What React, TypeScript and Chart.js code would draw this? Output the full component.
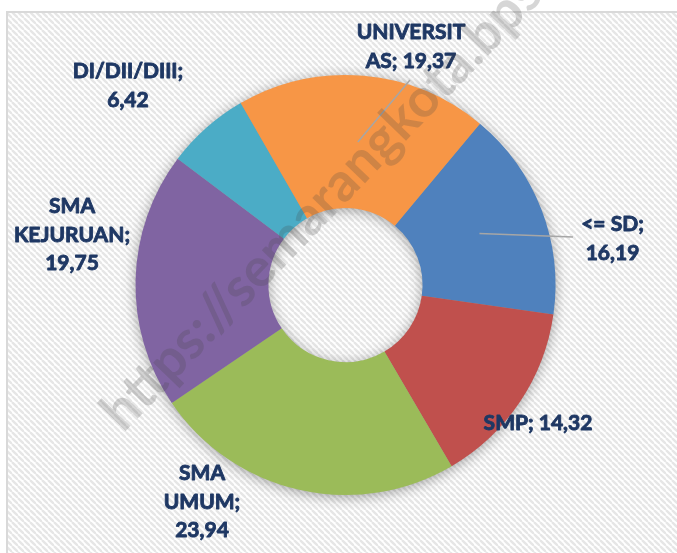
import React, { useEffect, useRef } from "react";
import { Chart, registerables } from "chart.js";

Chart.register(...registerables);

// ---- data ----
const CATEGORIES = ["<= SD", "SMP", "SMA UMUM", "SMA KEJURUAN", "DI/DII/DIII", "UNIVERSITAS"];
const VALUES = [16.19, 14.32, 23.94, 19.75, 6.42, 19.37];
const COLORS = ["#4F81BD", "#C0504D", "#9BBB59", "#8064A2", "#4BACC6", "#F79646"];
// character positions at which Excel wrapped each data label
const LABEL_WRAP = [[6], [], [3, 9], [3, 13], [12], [9]];
// label placement relative to the doughnut centre (centre x of text, first baseline)
const LABEL_POS = [
  [267, -54],
  [192.5, 145],
  [-143.5, 195],
  [-273.5, -72],
  [-217.5, -207],
  [65.5, -246],
];
// leader line end points relative to centre (null = no leader)
const LEADER_END: (number[] | null)[] = [[227.5, -48], null, null, null, null, [64.5, -205]];
const WATERMARK = "https://semarangkota.bps.go.id";

const fmt = (v: number) => v.toFixed(2).replace(".", ",");

function labelLines(i: number): string[] {
  const text = `${CATEGORIES[i]}; ${fmt(VALUES[i])}`;
  const cuts = [...LABEL_WRAP[i], text.length];
  const out: string[] = [];
  let prev = 0;
  for (const c of cuts) {
    out.push(text.slice(prev, c).trim());
    prev = c;
  }
  return out;
}

function makePattern(ctx: CanvasRenderingContext2D) {
  const n = 6;
  const c = document.createElement("canvas");
  c.width = n;
  c.height = n;
  const p = c.getContext("2d")!;
  p.fillStyle = "#ffffff";
  p.fillRect(0, 0, n, n);
  p.strokeStyle = "#e6e6e6";
  p.lineWidth = 2.4;
  for (const off of [-n, 0, n]) {
    p.beginPath();
    p.moveTo(off, 0);
    p.lineTo(off + n, n);
    p.stroke();
  }
  return ctx.createPattern(c, "repeat")!;
}

const backgroundPlugin = {
  id: "bgFrame",
  beforeDraw(chart: any) {
    const { ctx, width, height } = chart;
    ctx.save();
    ctx.fillStyle = "#ffffff";
    ctx.fillRect(0, 0, width, height);
    ctx.fillStyle = makePattern(ctx);
    ctx.fillRect(7, 12, width - 7, height - 12);
    ctx.strokeStyle = "#d9d9d9";
    ctx.lineWidth = 2;
    ctx.beginPath();
    ctx.moveTo(7, height);
    ctx.lineTo(7, 12);
    ctx.lineTo(width, 12);
    ctx.stroke();
    ctx.restore();
  },
};

const ringShadowPlugin = {
  id: "ringShadow",
  beforeDatasetsDraw(chart: any) {
    const arc = chart.getDatasetMeta(0).data[0];
    if (!arc) return;
    const { x, y, innerRadius, outerRadius } = arc.getProps(["x", "y", "innerRadius", "outerRadius"], true);
    const ctx = chart.ctx;
    ctx.save();
    ctx.shadowColor = "rgba(0,0,0,0.4)";
    ctx.shadowBlur = 14;
    ctx.shadowOffsetX = 0;
    ctx.shadowOffsetY = 2;
    ctx.fillStyle = "#999";
    ctx.beginPath();
    ctx.arc(x, y, outerRadius - 1, 0, Math.PI * 2);
    ctx.arc(x, y, innerRadius + 1, 0, Math.PI * 2, true);
    ctx.fill("evenodd");
    ctx.restore();
  },
};

const labelPlugin = {
  id: "excelLabels",
  afterDatasetsDraw(chart: any) {
    const meta = chart.getDatasetMeta(0);
    const first = meta.data[0];
    if (!first) return;
    const { x: cx, y: cy } = first.getProps(["x", "y"], true);
    const ctx = chart.ctx;
    ctx.save();
    meta.data.forEach((arc: any, i: number) => {
      const end = LEADER_END[i];
      if (end) {
        const p = arc.getCenterPoint(true);
        ctx.strokeStyle = "#a6a6a6";
        ctx.lineWidth = 1.5;
        ctx.beginPath();
        ctx.moveTo(p.x, p.y);
        ctx.lineTo(cx + end[0], cy + end[1]);
        ctx.stroke();
      }
    });
    ctx.fillStyle = "#1F3864";
    ctx.strokeStyle = "#1F3864";
    ctx.lineWidth = 0.9;
    ctx.lineJoin = "round";
    ctx.font = "bold 21px Lato";
    ctx.textAlign = "center";
    ctx.textBaseline = "alphabetic";
    meta.data.forEach((_arc: any, i: number) => {
      const lines = labelLines(i);
      const [dx, dy] = LABEL_POS[i];
      lines.forEach((ln, k) => {
        const tx = cx + dx;
        const ty = cy + dy + k * 28.7;
        ctx.fillText(ln, tx, ty);
        ctx.strokeText(ln, tx, ty);
      });
    });
    ctx.restore();
  },
};

const watermarkPlugin = {
  id: "watermark",
  afterDraw(chart: any) {
    const ctx = chart.ctx;
    const size = 54;
    ctx.save();
    ctx.font = `bold ${size}px Lato`;
    const lead = ctx.measureText("https://").width + ctx.measureText("s").width / 2;
    ctx.translate(243, 290);
    ctx.rotate((-46 * Math.PI) / 180);
    ctx.fillStyle = "rgba(70,70,70,0.22)";
    ctx.strokeStyle = "rgba(70,70,70,0.22)";
    ctx.lineWidth = 1.2;
    ctx.textAlign = "left";
    ctx.textBaseline = "alphabetic";
    ctx.fillText(WATERMARK, -lead, size * 0.25);
    ctx.restore();
  },
};

export default function App() {
  const ref = useRef<HTMLCanvasElement>(null);
  useEffect(() => {
    const chart = new Chart(ref.current!, {
      type: "doughnut",
      data: {
        labels: CATEGORIES,
        datasets: [
          {
            data: VALUES,
            backgroundColor: COLORS,
            borderWidth: 0,
            hoverOffset: 0,
          },
        ],
      },
      options: {
        animation: false,
        responsive: false,
        devicePixelRatio: 1,
        rotation: 39.8,
        cutout: "36.7%",
        layout: { padding: { left: 135.5, right: 121.5, top: 75, bottom: 58 } },
        plugins: {
          legend: { display: false },
          tooltip: { enabled: false },
        },
      },
      plugins: [backgroundPlugin, ringShadowPlugin, labelPlugin, watermarkPlugin],
    });
    return () => chart.destroy();
  }, []);
  return (
    <div style={{ position: "fixed", left: 0, top: 0, width: 677, height: 553 }}>
      <canvas ref={ref} width={677} height={553} style={{ display: "block" }} />
    </div>
  );
}
